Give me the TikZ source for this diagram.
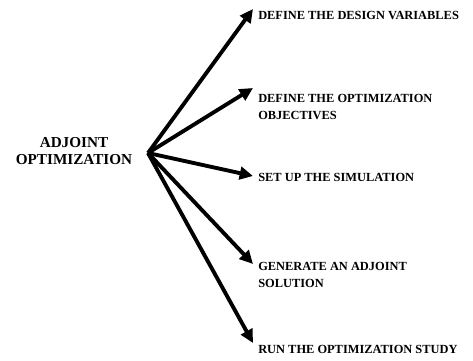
\documentclass[tikz,border=0pt]{standalone}
\usepackage{fontspec}
\setmainfont{Liberation Serif}
\usetikzlibrary{arrows.meta}

\begin{document}
\begin{tikzpicture}[
            x=.75pt, y=-.75pt,
            branch/.style={line width=2.9pt, -{Triangle[length=10pt, width=9.5pt]}},
            task/.style={font=\fontsize{9.3}{12.75}\selectfont\bfseries,
                anchor=west, align=left, inner sep=0pt},
            root/.style={font=\fontsize{11.4}{12.75}\selectfont\bfseries,
                align=center, inner sep=0pt},
        ]
            \useasboundingbox (0,0) rectangle (473,360);

            %% the topic, and the point all branches fan out from
            \node[root] (adjoint) at (74,151) {ADJOINT\\OPTIMIZATION};
            \coordinate (hub) at (148,153);

            %% one arrow per step, its tip just left of the step's text
            \foreach \n/\ty/\ly/\txt in {
                1/9/15/{DEFINE THE DESIGN VARIABLES},
                2/88/107/{DEFINE THE OPTIMIZATION\\OBJECTIVES},
                3/176/177/{SET UP THE SIMULATION},
                4/264/275/{GENERATE AN ADJOINT\\SOLUTION},
                5/343/349/{RUN THE OPTIMIZATION STUDY}}{
                \node[task] (stage\n) at (258,\ly) {\txt};
                \coordinate (tip\n) at (253,\ty);
                \draw[branch] (hub) -- (tip\n);
            }
        \end{tikzpicture}
\end{document}
